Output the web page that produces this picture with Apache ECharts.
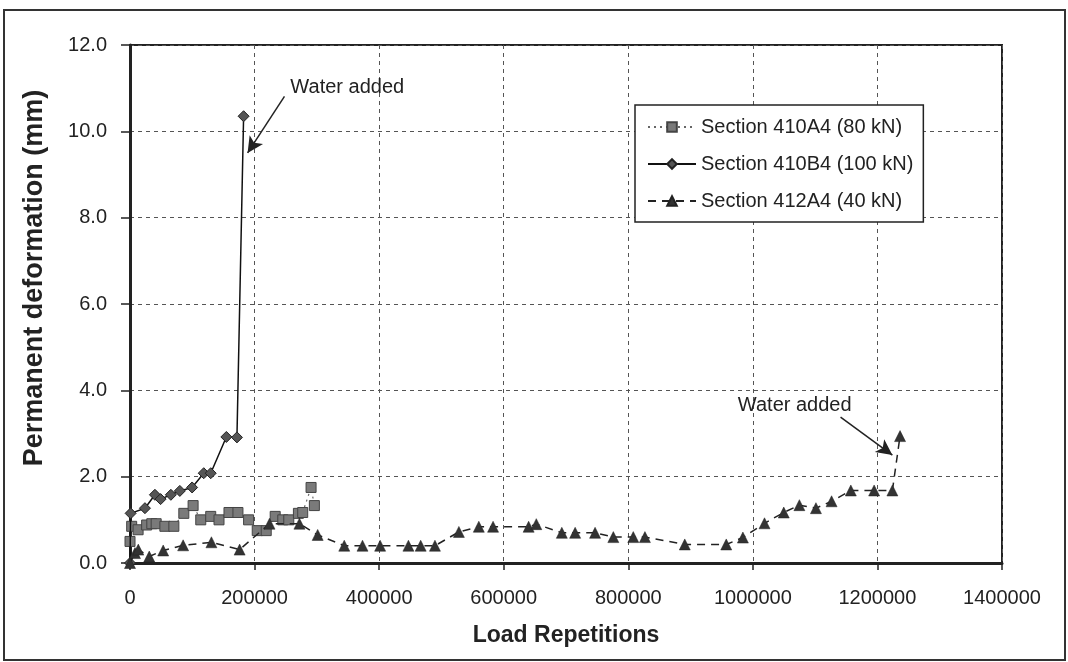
<!DOCTYPE html>
<html><head><meta charset="utf-8">
<script src="https://cdn.jsdelivr.net/npm/echarts@6/dist/echarts.min.js"></script>
<style>html,body{margin:0;padding:0;background:#fff}#c{width:1068px;height:662px}</style>
</head><body><div id="c"></div>
<script>
// Load repetitions / permanent deformation (mm)
const s410A4 = [[0,0.5],[2700,0.85],[13000,0.77],[26700,0.88],[35000,0.91],[42000,0.91],[56000,0.85],[70400,0.85],[86400,1.15],[101300,1.33],[113600,1.0],[129600,1.08],[142900,1.0],[158900,1.17],[173300,1.17],[190400,1.0],[204300,0.75],[218700,0.75],[233100,1.08],[245300,1.0],[254900,1.0],[270400,1.15],[277300,1.17],[290700,1.75],[296000,1.33]];
const s410B4 = [[0,0],[1000,1.15],[24000,1.27],[40000,1.58],[49100,1.48],[65600,1.58],[80000,1.67],[99700,1.75],[118400,2.08],[129600,2.08],[154700,2.92],[171700,2.91],[182400,10.35]];
const s412A4 = [[0,0],[8000,0.23],[13300,0.31],[30900,0.15],[53300,0.29],[85300,0.41],[130700,0.48],[176000,0.31],[224000,0.91],[272000,0.91],[301300,0.65],[344000,0.40],[373300,0.40],[401600,0.40],[447000,0.40],[466700,0.40],[489600,0.40],[528000,0.72],[560000,0.84],[582900,0.84],[640000,0.84],[652300,0.90],[693300,0.70],[714700,0.70],[746700,0.70],[776000,0.60],[808000,0.60],[826700,0.60],[890700,0.43],[957300,0.43],[984000,0.59],[1018700,0.92],[1049600,1.17],[1074700,1.34],[1101300,1.27],[1126400,1.43],[1157300,1.68],[1194700,1.68],[1224000,1.68],[1236300,2.94]];
const seriesNames = ['Section 410A4 (80 kN)','Section 410B4 (100 kN)','Section 412A4 (40 kN)'];
const yTicks = [0,2,4,6,8,10,12];
const xTicks = [0,200000,400000,600000,800000,1000000,1200000,1400000];
const annotationText = 'Water added';
const note1 = {text:[348800,11.01], from:[248000,10.81], to:[188800,9.50]};
const note2 = {text:[1067200,3.66], from:[1140800,3.38], to:[1224000,2.50]};

const chart = echarts.init(document.getElementById('c'), null, {renderer:'canvas'});
const font = 'Liberation Sans, Arial, sans-serif';
const dark = '#222';
const arrowLine = (n) => [{coord:n.from},{coord:n.to}];
const notePoint = (n) => ({coord:n.text, symbolSize:0, label:{show:true, position:'inside', formatter:annotationText, fontSize:20, fontFamily:font, color:dark}});

chart.setOption({
  animation:false,
  backgroundColor:'#fff',
  textStyle:{fontFamily:font},
  graphic:[{type:'rect', shape:{x:4,y:10,width:1061,height:650}, style:{fill:'none', stroke:'#333', lineWidth:2}, z:-1}],
  grid:{left:130, right:66, top:45, bottom:99, show:true, borderColor:dark, borderWidth:2, backgroundColor:'transparent'},
  legend:{
    orient:'vertical', left:635, top:105,
    data:seriesNames,
    backgroundColor:'#fff', borderColor:dark, borderWidth:1.5,
    padding:[12,10,11,12], itemGap:17, itemWidth:48, itemHeight:12,
    textStyle:{fontSize:20, color:dark, fontFamily:font}
  },
  xAxis:{
    type:'value', min:xTicks[0], max:xTicks[xTicks.length-1], interval:xTicks[1]-xTicks[0],
    name:'Load Repetitions', nameLocation:'middle', nameGap:61,
    nameTextStyle:{fontSize:23, fontWeight:'bold', color:dark, fontFamily:font},
    axisLine:{show:true, onZero:false, lineStyle:{color:dark, width:3}},
    axisTick:{show:true, length:7, lineStyle:{color:dark, width:1.5}},
    axisLabel:{fontSize:20, color:dark, margin:25, fontFamily:font, formatter:v=>String(v)},
    splitLine:{show:true, lineStyle:{color:'#555', width:1, type:[4,4]}}
  },
  yAxis:{
    type:'value', min:yTicks[0], max:yTicks[yTicks.length-1], interval:yTicks[1]-yTicks[0],
    name:'Permanent deformation (mm)', nameLocation:'middle', nameGap:82, nameRotate:90,
    nameTextStyle:{fontSize:27, fontWeight:'bold', color:dark, fontFamily:font, padding:[0,0,0,52]},
    axisLine:{show:true, onZero:false, lineStyle:{color:dark, width:3}},
    axisTick:{show:true, length:9, lineStyle:{color:dark, width:1.5}},
    axisLabel:{fontSize:20, color:dark, margin:23, fontFamily:font, formatter:v=>v.toFixed(1)},
    splitLine:{show:true, lineStyle:{color:'#555', width:1, type:[4,4]}}
  },
  series:[
    {name:seriesNames[0], type:'line', data:s410A4, symbol:'rect', symbolSize:10, showSymbol:true,
     lineStyle:{color:'#666', width:1.2, type:[2,4]},
     itemStyle:{color:'#7a7a7a', borderColor:'#444', borderWidth:1}, z:3},
    {name:seriesNames[1], type:'line', data:s410B4, symbol:'diamond', symbolSize:11,
     lineStyle:{color:'#111', width:1.5, type:'solid'},
     itemStyle:{color:'#555', borderColor:'#222', borderWidth:1}, z:4,
     markLine:{silent:true, symbol:['none','arrow'], symbolSize:[12,16], label:{show:false},
       lineStyle:{color:dark, width:1.5, type:'solid'}, data:[arrowLine(note1)]},
     markPoint:{silent:true, data:[notePoint(note1)]}},
    {name:seriesNames[2], type:'line', data:s412A4, symbol:'triangle', symbolSize:11,
     lineStyle:{color:'#222', width:1.5, type:[8,6]},
     itemStyle:{color:'#333', borderColor:'#222', borderWidth:0.5}, z:5,
     markLine:{silent:true, symbol:['none','arrow'], symbolSize:[12,16], label:{show:false},
       lineStyle:{color:dark, width:1.5, type:'solid'}, data:[arrowLine(note2)]},
     markPoint:{silent:true, data:[notePoint(note2)]}}
  ]
});
</script></body></html>
